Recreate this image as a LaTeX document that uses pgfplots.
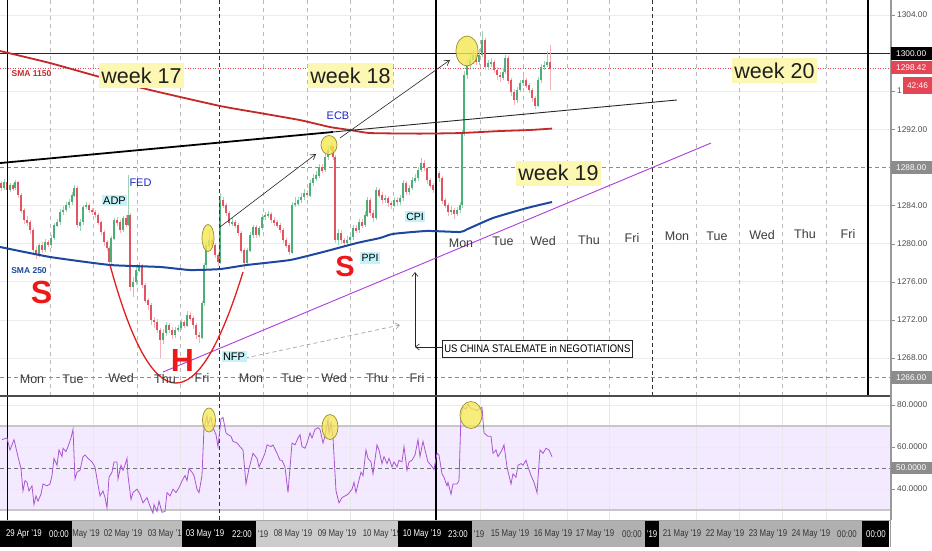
\documentclass[border=0pt]{standalone}
\usepackage{pgfplots}
\pgfplotsset{compat=1.18}
\usepackage{pgfplotstable}
\usepackage{graphicx}
\usepackage{fontspec}
\setmainfont{Liberation Sans}
\usetikzlibrary{arrows.meta}

\definecolor{cgreen}{RGB}{76,175,120}
\definecolor{cred}{RGB}{226,84,96}
\definecolor{smaA}{RGB}{196,40,40}
\definecolor{smaB}{RGB}{28,72,160}
\definecolor{tpurple}{RGB}{170,60,225}
\definecolor{cupred}{RGB}{225,30,30}
\definecolor{labelred}{RGB}{238,24,24}
\definecolor{newsblue}{RGB}{30,40,205}
\definecolor{weekyellow}{RGB}{252,247,178}
\definecolor{newscyan}{RGB}{196,242,248}
\definecolor{circyellow}{RGB}{245,232,80}
\definecolor{circedge}{RGB}{150,140,50}
\definecolor{rsiline}{RGB}{170,85,210}
\definecolor{rsiband}{RGB}{244,234,255}
\definecolor{gridgray}{RGB}{236,236,236}
\definecolor{daygray}{RGB}{60,60,60}
\definecolor{pxred}{RGB}{228,70,86}
\definecolor{barA}{RGB}{188,188,188}
\definecolor{barB}{RGB}{204,204,204}
\definecolor{barC}{RGB}{176,176,176}

\newcommand{\cond}[1]{\scalebox{0.8}[1]{#1}}

\pgfplotstableread{
x o h l c
1 1286.36 1286.6 1285.5 1285.84
4 1285.84 1286.8 1285.6 1286.47
7 1286.47 1286.7 1285.3 1285.63
10 1285.63 1286.4 1285.4 1286.15
13 1286.15 1286.4 1285.5 1285.84
15 1285.84 1286.7 1285.6 1286.47
18 1286.47 1286.6 1284.8 1285.10
21 1285.10 1285.3 1283.2 1283.53
24 1283.53 1283.8 1282.1 1282.48
27 1282.48 1282.9 1281.9 1282.27
30 1282.27 1282.5 1281.0 1281.43
33 1281.43 1281.6 1279.0 1279.33
36 1279.33 1279.8 1278.4 1278.81
39 1278.81 1280.1 1278.6 1279.86
42 1279.86 1280.2 1279.0 1279.33
45 1279.33 1280.5 1279.1 1280.17
48 1280.17 1280.4 1279.6 1279.86
51 1279.86 1280.9 1279.6 1280.59
54 1280.59 1282.2 1280.4 1281.95
57 1281.95 1282.6 1281.7 1282.27
60 1282.27 1283.6 1282.0 1283.32
63 1283.32 1283.9 1283.0 1283.53
66 1283.53 1284.4 1283.3 1284.05
69 1284.05 1284.7 1283.8 1284.37
72 1284.37 1285.4 1284.1 1285.10
74 1285.10 1286.2 1284.9 1285.84
77 1285.84 1286.0 1281.6 1281.95
80 1281.95 1282.6 1281.3 1282.27
83 1282.27 1284.1 1282.0 1283.85
86 1283.85 1284.4 1283.6 1284.05
89 1284.05 1284.3 1283.2 1283.53
92 1283.53 1283.8 1283.0 1283.32
95 1283.32 1283.5 1282.7 1283.00
98 1283.00 1283.2 1282.0 1282.27
101 1282.27 1282.4 1280.9 1281.22
104 1281.22 1281.4 1279.8 1280.17
107 1280.17 1280.4 1279.2 1279.54
109 1279.54 1279.8 1277.8 1278.07
111 1278.07 1280.8 1277.9 1280.59
114 1280.59 1282.7 1280.4 1282.48
117 1282.48 1282.8 1281.9 1282.27
120 1282.27 1282.5 1281.1 1281.43
123 1281.43 1282.9 1281.2 1282.69
126 1282.69 1283.0 1281.7 1281.95
128 1281.95 1287.2 1281.8 1283.00
130 1283.00 1283.2 1275.0 1275.45
133 1275.45 1276.5 1274.4 1275.97
136 1275.97 1277.5 1275.7 1277.23
139 1277.23 1278.1 1277.0 1277.76
142 1277.76 1277.9 1275.3 1275.66
145 1275.66 1275.9 1273.8 1274.08
148 1274.08 1274.3 1273.0 1273.56
151 1273.56 1273.8 1271.5 1271.98
154 1271.98 1272.3 1271.1 1271.77
157 1271.77 1272.1 1270.6 1270.93
160 1270.93 1271.2 1268.0 1269.88
163 1269.88 1271.0 1269.5 1270.62
166 1270.62 1271.8 1270.3 1271.46
169 1271.46 1271.7 1270.6 1270.93
172 1270.93 1271.2 1270.0 1270.41
175 1270.41 1271.3 1270.1 1270.93
178 1270.93 1271.5 1270.7 1271.14
181 1271.14 1272.1 1270.9 1271.77
184 1271.77 1272.0 1271.1 1271.46
187 1271.46 1272.9 1271.2 1272.51
190 1272.51 1272.8 1271.9 1272.19
193 1272.19 1272.4 1271.1 1271.46
196 1271.46 1271.7 1270.0 1270.41
199 1270.41 1270.7 1269.6 1270.20
202 1270.20 1274.0 1270.0 1273.77
204 1273.77 1278.0 1273.5 1277.76
206 1277.76 1280.2 1277.5 1279.86
209 1279.86 1281.4 1279.6 1280.38
212 1280.38 1280.7 1279.5 1279.86
215 1279.86 1280.1 1278.5 1278.81
218 1278.81 1279.0 1277.7 1278.07
220 1278.07 1285.3 1277.9 1284.58
223 1284.58 1284.9 1283.7 1284.05
226 1284.05 1284.3 1282.9 1283.21
229 1283.21 1283.4 1281.8 1282.17
232 1282.17 1282.7 1281.9 1282.27
235 1282.27 1282.5 1281.6 1281.95
238 1281.95 1282.2 1280.8 1281.12
241 1281.12 1281.3 1279.0 1279.33
244 1279.33 1279.6 1277.3 1277.97
247 1277.97 1279.6 1277.7 1279.33
250 1279.33 1281.2 1279.1 1280.91
253 1280.91 1282.0 1280.6 1281.75
256 1281.75 1282.0 1280.6 1280.91
259 1280.91 1281.9 1280.7 1281.64
262 1281.64 1283.1 1281.4 1282.80
265 1282.80 1283.3 1282.5 1283.00
268 1283.00 1283.4 1282.7 1283.10
271 1283.10 1283.3 1282.2 1282.48
274 1282.48 1282.8 1281.9 1282.27
277 1282.27 1282.5 1281.6 1281.95
280 1281.95 1282.2 1281.1 1281.43
283 1281.43 1281.6 1280.1 1280.38
286 1280.38 1280.6 1279.5 1279.86
289 1279.86 1280.1 1278.8 1279.12
292 1279.12 1284.4 1278.9 1284.05
295 1284.05 1284.9 1283.8 1284.26
298 1284.26 1284.9 1284.0 1284.58
301 1284.58 1285.3 1284.3 1284.89
304 1284.89 1285.7 1284.6 1285.31
307 1285.31 1285.6 1284.8 1285.10
310 1285.10 1286.7 1284.9 1286.36
313 1286.36 1287.3 1286.1 1286.89
316 1286.89 1287.6 1286.6 1287.20
319 1287.20 1288.4 1286.9 1288.04
322 1288.04 1288.4 1287.4 1287.73
325 1287.73 1289.4 1287.5 1289.09
328 1289.09 1290.3 1288.8 1289.83
331 1289.83 1290.6 1289.4 1290.20
333 1290.20 1290.4 1288.8 1289.09
335 1289.09 1289.3 1280.1 1280.38
338 1280.38 1281.5 1279.9 1281.12
341 1281.12 1281.4 1280.0 1280.38
344 1280.38 1280.6 1279.7 1280.07
347 1280.07 1280.8 1279.8 1280.38
350 1280.38 1281.1 1280.1 1280.70
353 1280.70 1282.0 1280.4 1281.64
356 1281.64 1282.0 1281.1 1281.43
359 1281.43 1282.6 1281.1 1282.27
362 1282.27 1282.6 1281.6 1281.95
365 1281.95 1283.4 1281.7 1283.00
367 1283.00 1284.9 1282.8 1284.58
370 1284.58 1284.8 1282.9 1283.21
373 1283.21 1283.5 1282.3 1282.69
376 1282.69 1286.0 1282.5 1285.63
379 1285.63 1285.9 1284.8 1285.10
382 1285.10 1285.4 1284.2 1284.58
385 1284.58 1285.1 1284.3 1284.79
388 1284.79 1285.0 1283.9 1284.26
391 1284.26 1284.5 1283.6 1284.05
394 1284.05 1284.9 1283.8 1284.58
397 1284.58 1284.9 1284.0 1284.37
400 1284.37 1285.1 1284.1 1284.79
403 1284.79 1286.7 1284.5 1286.36
406 1286.36 1286.6 1285.1 1285.42
409 1285.42 1286.2 1285.1 1285.84
412 1285.84 1287.0 1285.6 1286.68
415 1286.68 1287.3 1286.4 1286.89
418 1286.89 1288.1 1286.6 1287.73
421 1287.73 1289.0 1287.5 1288.46
424 1288.46 1288.8 1287.6 1287.94
427 1287.94 1288.1 1286.3 1286.68
430 1286.68 1286.9 1285.8 1286.15
433 1286.15 1286.4 1285.3 1285.63
436 1285.63 1287.7 1285.4 1287.41
439 1287.41 1287.6 1286.5 1286.89
442 1286.89 1287.1 1284.2 1284.58
445 1284.58 1284.8 1283.7 1284.05
448 1284.05 1284.3 1282.9 1283.32
451 1283.32 1283.9 1283.0 1283.53
454 1283.53 1283.8 1282.6 1283.21
457 1283.21 1283.9 1282.9 1283.53
460 1283.53 1284.4 1283.2 1284.05
462 1284.05 1291.9 1283.8 1291.61
464 1291.61 1298.1 1291.3 1297.70
467 1297.70 1299.4 1297.3 1298.75
470 1298.75 1299.9 1298.4 1299.28
473 1299.28 1300.3 1298.9 1299.80
476 1299.80 1300.1 1298.7 1299.07
479 1299.07 1300.4 1298.8 1299.80
482 1299.80 1302.3 1299.6 1301.38
485 1301.38 1301.6 1298.2 1298.54
488 1298.54 1299.3 1298.2 1298.96
491 1298.96 1299.5 1298.6 1299.07
494 1299.07 1299.3 1297.9 1298.23
497 1298.23 1298.5 1297.2 1297.70
500 1297.70 1298.0 1297.0 1297.49
503 1297.49 1298.4 1297.2 1298.02
505 1298.02 1299.8 1297.8 1299.49
508 1299.49 1299.7 1296.8 1297.18
511 1297.18 1297.4 1295.5 1295.92
514 1295.92 1296.2 1294.6 1295.08
517 1295.08 1296.5 1294.8 1296.13
520 1296.13 1297.2 1295.9 1296.86
523 1296.86 1297.6 1296.6 1297.18
526 1297.18 1297.4 1296.3 1296.65
529 1296.65 1296.9 1295.8 1296.13
532 1296.13 1296.4 1294.9 1295.29
535 1295.29 1295.5 1294.1 1294.55
538 1294.55 1297.5 1294.3 1297.18
541 1297.18 1298.9 1296.9 1298.54
544 1298.54 1299.2 1298.2 1298.75
547 1298.75 1300.2 1298.5 1299.07
550 1299.07 1300.8 1296.1 1298.42
}\candles

\pgfplotstableread{
x r
2 63.5
7 64.3
10 58.6
14 63.5
18 55.4
21 49.7
23 39.1
25 44.0
27 43.2
29 39.1
32 41.5
34 32.6
36 36.7
38 34.2
41 37.5
43 42.4
47 41.5
50 42.4
52 46.4
54 54.6
57 51.3
59 58.6
62 55.4
63 59.4
66 57.8
68 60.2
71 64.3
73 68.4
75 44.8
77 48.0
80 48.9
83 55.4
85 56.2
88 54.6
92 52.9
95 50.5
97 44.8
100 36.7
103 39.1
105 35.9
107 31.0
109 45.6
112 48.0
114 52.9
117 52.9
118 44.8
121 51.3
123 48.9
125 51.3
127 54.6
128 46.4
131 35.0
133 38.3
137 39.9
140 37.5
143 33.4
147 35.9
150 31.8
153 28.5
154 32.6
157 29.3
159 34.2
162 28.9
165 29.3
167 38.3
170 36.7
173 39.9
176 38.3
179 40.7
183 44.8
185 46.4
187 44.0
189 49.7
192 48.0
194 46.4
197 39.9
199 38.3
202 46.4
204 69.2
207 74.9
208 70.8
211 74.1
213 69.2
216 65.9
218 60.2
221 73.3
223 74.1
226 66.7
228 65.9
231 65.1
233 62.7
237 61.9
240 60.2
243 58.6
246 42.4
249 49.7
253 57.0
257 54.6
259 50.5
262 53.7
265 57.0
267 61.0
271 60.2
273 61.0
277 57.0
280 53.7
282 53.7
285 50.5
288 38.3
292 61.9
295 61.0
298 64.3
300 65.9
302 60.2
305 59.4
307 61.9
310 66.7
312 64.3
315 68.4
318 69.2
320 68.4
323 61.9
325 65.1
328 73.3
329 66.7
331 71.6
333 64.3
336 39.1
339 33.4
342 35.9
345 36.7
348 37.5
352 39.9
354 43.2
356 38.3
358 42.4
361 48.0
363 46.4
366 58.6
368 54.6
371 52.9
373 47.2
377 61.0
379 58.6
382 52.1
384 55.4
387 52.1
389 54.6
392 50.5
394 52.9
397 50.5
399 53.7
402 52.9
404 60.2
407 48.9
409 52.9
412 53.7
415 56.2
418 63.5
420 55.4
423 62.7
425 58.6
428 52.9
431 51.3
434 49.3
437 57.0
439 56.2
442 47.2
444 45.6
447 41.5
448 43.2
451 37.5
453 42.4
457 42.4
459 44.0
461 75.7
463 78.9
466 78.1
468 80.6
471 78.1
474 78.1
477 77.3
479 78.1
482 78.9
484 66.7
488 65.1
491 65.1
493 57.0
496 58.6
498 55.4
500 57.0
502 58.6
504 61.0
507 50.5
509 46.4
511 42.4
513 47.2
516 45.6
518 51.3
521 52.1
523 51.3
526 53.7
528 50.5
531 46.4
534 43.2
537 38.3
540 58.6
543 57.0
546 59.4
549 58.6
552 55.4
}\rsi

\begin{document}
\begin{tikzpicture}
\fill[white] (0pt,0pt) rectangle (932pt,-550pt);
\path[use as bounding box] (0pt,0pt) rectangle (932pt,-550pt);

% ================= PRICE PANEL =================
\begin{axis}[
  at={(0pt,0pt)}, anchor=north west,
  width=891pt, height=396pt, scale only axis,
  xmin=0, xmax=891, ymin=1264.005, ymax=1305.575,
  axis x line=none, axis y line*=right,
  axis line style={draw=black!40},
  ytick={1268,1272,1276,1280,1284,1292,1304},
  extra y ticks={1266,1288,1296,1300},
  extra y tick labels={},
  extra y tick style={grid=none},
  tick align=outside, major tick length=4pt,
  ytick style={draw=black!45},
  yticklabel style={font=\fontsize{8.3}{9}\selectfont, text=black!70, anchor=west, inner sep=0pt, xshift=2pt,
    /pgf/number format/fixed, /pgf/number format/fixed zerofill, /pgf/number format/precision=2,
    /pgf/number format/1000 sep={}, /pgf/number format/assume math mode=true},
  ymajorgrids, grid style={draw=gridgray, line width=0.6pt},
  clip=false,
]
\draw[gridgray, line width=0.6pt] (axis cs:0,1296) -- (axis cs:891,1296);
% day boundaries
\pgfplotsinvokeforeach{50,93,137,180,263,307,350,393,480,523,567,609,696,739,782,826}{
  \draw[black!28, dash pattern=on 4pt off 4pt] (axis cs:#1,1264.005) -- (axis cs:#1,1305.575);
}
% horizontal levels
\draw[black!45, dash pattern=on 4pt off 3pt] (axis cs:0,1288) -- (axis cs:891,1288);
\draw[black!45, dash pattern=on 4pt off 3pt] (axis cs:0,1266) -- (axis cs:891,1266);
\draw[black!85, line width=0.9pt] (axis cs:0,1300) -- (axis cs:891,1300);
\draw[pxred, dash pattern=on 1pt off 1.5pt, line width=0.6pt] (axis cs:0,1298.42) -- (axis cs:891,1298.42);

% candles: wicks
\addplot[draw=none, mark=none, forget plot, restrict y to domain=1200:1400,
  error bars/.cd, y dir=both, y explicit, error mark=none,
  error bar style={draw=cgreen!55, line width=0.7pt}]
  table[x=x, y expr={(\thisrow{h}+\thisrow{l})/2 + 1000*(\thisrow{c}<\thisrow{o})},
        y error expr={(\thisrow{h}-\thisrow{l})/2}] {\candles};
\addplot[draw=none, mark=none, forget plot, restrict y to domain=1200:1400,
  error bars/.cd, y dir=both, y explicit, error mark=none,
  error bar style={draw=cred!45, line width=0.7pt}]
  table[x=x, y expr={(\thisrow{h}+\thisrow{l})/2 + 1000*(\thisrow{c}>=\thisrow{o})},
        y error expr={(\thisrow{h}-\thisrow{l})/2}] {\candles};
% candles: bodies
\addplot[draw=none, mark=none, forget plot, restrict y to domain=1200:1400,
  error bars/.cd, y dir=both, y explicit, error mark=none,
  error bar style={draw=cgreen, line width=2.3pt}]
  table[x=x, y expr={(\thisrow{o}+\thisrow{c})/2 + 1000*(\thisrow{c}<\thisrow{o})},
        y error expr={abs(\thisrow{c}-\thisrow{o})/2+0.04}] {\candles};
\addplot[draw=none, mark=none, forget plot, restrict y to domain=1200:1400,
  error bars/.cd, y dir=both, y explicit, error mark=none,
  error bar style={draw=cred, line width=2.3pt}]
  table[x=x, y expr={(\thisrow{o}+\thisrow{c})/2 + 1000*(\thisrow{c}>=\thisrow{o})},
        y error expr={abs(\thisrow{c}-\thisrow{o})/2+0.04}] {\candles};

% dark vertical lines
\draw[black, line width=1.3pt] (axis cs:7.5,1264.005) -- (axis cs:7.5,1305.575);
\draw[black, line width=1.3pt] (axis cs:436,1264.005) -- (axis cs:436,1305.575);
\draw[black, line width=1.3pt] (axis cs:868,1264.005) -- (axis cs:868,1305.575);
\draw[black!80, line width=0.9pt, dash pattern=on 4pt off 3pt] (axis cs:219,1264.005) -- (axis cs:219,1305.575);
\draw[black!80, line width=0.9pt, dash pattern=on 4pt off 3pt] (axis cs:652,1264.005) -- (axis cs:652,1305.575);

% SMA 1150
\addplot[smaA, line width=1.8pt, no marks, smooth, tension=0.3] coordinates {
(0,1300.22) (50,1298.96) (100,1297.49) (150,1296.13) (220,1294.45) (260,1293.71)
(300,1292.97) (330,1292.24) (350,1291.93) (370,1291.61) (420,1291.55) (460,1291.61)
(500,1291.82) (530,1291.93) (552,1292.08)};
% SMA 250
\addplot[smaB, line width=2pt, no marks, smooth, tension=0.3] coordinates {
(0,1279.65) (50,1278.60) (110,1277.76) (160,1277.55) (190,1277.23) (220,1277.33)
(247,1277.76) (290,1278.28) (323,1279.12) (357,1280.07) (380,1280.59) (393,1281.02)
(427,1281.33) (460,1281.22) (467,1281.50) (493,1282.69) (527,1283.74) (552,1284.37)};

% trend lines
\draw[black, line width=1.8pt] (axis cs:0,1288.46) -- (axis cs:333,1291.72);
\draw[black!85, line width=0.9pt] (axis cs:333,1291.72) -- (axis cs:677,1295.08);
\draw[tpurple, line width=0.9pt] (axis cs:163,1266.52) -- (axis cs:711,1290.56);
% cup
\draw[cupred, line width=1.3pt] (axis cs:110,1277.76) .. controls (axis cs:152.3,1261.49) and (axis cs:196.7,1261.24) .. (axis cs:243,1277.02);
% arrows
\draw[black!85, line width=0.6pt, -{Straight Barb[length=5pt,width=6pt]}] (axis cs:220,1281.75) -- (axis cs:316,1289.41);
\draw[black!85, line width=0.6pt, -{Straight Barb[length=5pt,width=6pt]}] (axis cs:340,1291.09) -- (axis cs:450,1299.28);
\draw[black!35, line width=0.7pt, dash pattern=on 4pt off 3pt, -{Straight Barb[length=4pt,width=6pt]}] (axis cs:245,1267.99) -- (axis cs:400,1271.46);
\draw[black!85, line width=0.6pt, -{Straight Barb[length=4pt,width=6pt]}] (axis cs:415,1269.15) -- (axis cs:415,1277.02);
\draw[black!85, line width=0.6pt, -{Straight Barb[length=4pt,width=6pt]}] (axis cs:442,1269.15) -- (axis cs:415,1269.15);

% yellow circles
\filldraw[fill=circyellow, draw=circedge, fill opacity=0.8, line width=0.7pt] (axis cs:208,1280.59) ellipse [x radius=6pt, y radius=13.5pt];
\filldraw[fill=circyellow, draw=circedge, fill opacity=0.8, line width=0.7pt] (axis cs:329,1290.35) ellipse [x radius=8pt, y radius=9.5pt];
\filldraw[fill=circyellow, draw=circedge, fill opacity=0.8, line width=0.7pt] (axis cs:467,1300.22) ellipse [x radius=11pt, y radius=15pt];
\end{axis}

% ================= RSI PANEL =================
\begin{axis}[
  at={(0pt,-396pt)}, anchor=north west,
  width=891pt, height=124pt, scale only axis,
  xmin=0, xmax=891, ymin=25.238, ymax=84.286,
  axis x line=none, axis y line*=right,
  axis line style={draw=black!40},
  ytick={40,60,80},
  extra y ticks={50}, extra y tick labels={},
  tick align=outside, major tick length=4pt,
  ytick style={draw=black!45},
  yticklabel style={font=\fontsize{8.3}{9}\selectfont, text=black!70, anchor=west, inner sep=0pt, xshift=2pt,
    /pgf/number format/fixed, /pgf/number format/fixed zerofill, /pgf/number format/precision=4,
    /pgf/number format/1000 sep={}, /pgf/number format/assume math mode=true},
  clip=false,
]
\fill[rsiband] (axis cs:0,30) rectangle (axis cs:891,70);
\pgfplotsinvokeforeach{40,60,80}{
  \draw[black!8, line width=0.6pt] (axis cs:0,#1) -- (axis cs:891,#1);
}
\pgfplotsinvokeforeach{93,137,180,263,307,350,393,480,523,567,609,696,739,782,826}{
  \draw[black!9, line width=0.6pt] (axis cs:#1,25.238) -- (axis cs:#1,84.286);
}
\draw[black!22, line width=1.8pt] (axis cs:0,70) -- (axis cs:891,70);
\draw[black!22, line width=1.8pt] (axis cs:0,30) -- (axis cs:891,30);
\draw[black!55, dash pattern=on 4pt off 3pt, line width=0.6pt] (axis cs:0,50) -- (axis cs:891,50);
\draw[black, line width=1.3pt] (axis cs:7.5,25.238) -- (axis cs:7.5,84.286);
\draw[black, line width=1.3pt] (axis cs:436,25.238) -- (axis cs:436,84.286);
\draw[black!80, line width=0.9pt, dash pattern=on 4pt off 3pt] (axis cs:219,25.238) -- (axis cs:219,84.286);
\addplot[rsiline, line width=0.8pt, no marks] table[x=x, y=r] {\rsi};
\filldraw[fill=circyellow, draw=circedge, fill opacity=0.75, line width=0.7pt] (axis cs:209,72.86) ellipse [x radius=6.5pt, y radius=12pt];
\filldraw[fill=circyellow, draw=circedge, fill opacity=0.75, line width=0.7pt] (axis cs:330,69.52) ellipse [x radius=8pt, y radius=12.5pt];
\filldraw[fill=circyellow, draw=circedge, fill opacity=0.75, line width=0.7pt] (axis cs:471,75.24) ellipse [x radius=11pt, y radius=13.5pt];
\end{axis}

% separator lines
\draw[black!70, line width=1.2pt] (0pt,-396pt) -- (891pt,-396pt);
\draw[black!35, line width=0.8pt] (0pt,-520.5pt) -- (891pt,-520.5pt);

% ================= TEXT IN PRICE PANEL =================
\tikzset{wk/.style={fill=weekyellow, font=\fontsize{21.5}{24}\selectfont, text=black!88, inner xsep=2.5pt, minimum height=25pt},
         day/.style={font=\fontsize{12.5}{14}\selectfont, text=daygray, inner sep=0pt},
         news/.style={fill=newscyan, font=\fontsize{11}{12}\selectfont, text=black, inner xsep=1.5pt, inner ysep=2pt},
         big/.style={font=\bfseries\fontsize{32}{36}\selectfont, text=labelred, inner sep=0pt}}
\node[wk] at (141.5pt,-75.5pt) {week 17};
\node[wk] at (350.5pt,-75.5pt) {week 18};
\node[wk] at (558.5pt,-173pt) {week 19};
\node[wk] at (774.5pt,-70.5pt) {week 20};

\node[font=\bfseries\fontsize{8.5}{9}\selectfont, text=smaA, inner sep=0pt] at (31.5pt,-73.5pt) {SMA 1150};
\node[font=\bfseries\fontsize{8.5}{9}\selectfont, text=smaB, inner sep=0pt] at (29pt,-271pt) {SMA 250};

\node[big] at (41.5pt,-292.5pt) {S};
\node[big, font=\bfseries\fontsize{29}{32}\selectfont] at (345pt,-267pt) {S};
\node[big] at (182.5pt,-360pt) {H};

\node[news] at (114.5pt,-200.5pt) {ADP};
\node[font=\fontsize{11}{12}\selectfont, text=newsblue, inner sep=0pt] at (140.5pt,-182.5pt) {FED};
\node[font=\fontsize{11}{12}\selectfont, text=newsblue, inner sep=0pt] at (338pt,-116pt) {ECB};
\node[news, font=\fontsize{10.5}{12}\selectfont] at (415pt,-216.5pt) {CPI};
\node[news, font=\fontsize{10.5}{12}\selectfont] at (370pt,-258pt) {PPI};
\node[news] at (234pt,-356.5pt) {NFP};

\node[draw=black!85, fill=white, line width=0.6pt, font=\fontsize{11}{12}\selectfont, inner xsep=2pt, minimum height=17pt, anchor=west] at (442pt,-348.5pt) {\scalebox{0.86}[1]{US CHINA STALEMATE in NEGOTIATIONS}};

% day labels
\node[day] at (32pt,-379pt) {Mon};
\node[day] at (73pt,-379pt) {Tue};
\node[day] at (121pt,-378pt) {Wed};
\node[day] at (165pt,-379pt) {Thu};
\node[day] at (202pt,-378pt) {Fri};
\node[day] at (251pt,-378pt) {Mon};
\node[day] at (292pt,-378pt) {Tue};
\node[day] at (334pt,-378pt) {Wed};
\node[day] at (377pt,-378pt) {Thu};
\node[day] at (417pt,-378pt) {Fri};
\node[day] at (461pt,-243pt) {Mon};
\node[day] at (503pt,-241pt) {Tue};
\node[day] at (543pt,-241pt) {Wed};
\node[day] at (589pt,-240pt) {Thu};
\node[day] at (632pt,-238pt) {Fri};
\node[day] at (677pt,-236pt) {Mon};
\node[day] at (717pt,-236pt) {Tue};
\node[day] at (762pt,-235pt) {Wed};
\node[day] at (805pt,-234pt) {Thu};
\node[day] at (848pt,-234pt) {Fri};

% ================= PRICE SCALE BOXES =================
\tikzset{pbox/.style={font=\fontsize{8.3}{9}\selectfont, text=white, inner sep=0pt, anchor=west}}
\fill[black] (891pt,-47pt) rectangle (932pt,-59.5pt);
\node[pbox] at (896pt,-53.2pt) {1300.00};
\fill[pxred] (891pt,-61pt) rectangle (932pt,-74pt);
\node[pbox] at (896pt,-67.5pt) {1298.42};
\node[font=\fontsize{8.3}{9}\selectfont, text=black!70, inner sep=0pt, anchor=west] at (897pt,-90.5pt) {1};
\fill[pxred] (903pt,-77pt) rectangle (932pt,-94pt);
\node[pbox, anchor=center] at (917.5pt,-85.5pt) {42:46};
\fill[black!45] (891pt,-161pt) rectangle (932pt,-173.5pt);
\node[pbox] at (896pt,-167.3pt) {1288.00};
\fill[black!45] (891pt,-371pt) rectangle (932pt,-383.5pt);
\node[pbox] at (896pt,-377.3pt) {1266.00};
\fill[black!45] (891pt,-462pt) rectangle (932pt,-474pt);
\node[pbox] at (896pt,-468pt) {50.0000};

% ================= DATE BAR =================
\tikzset{dl/.style={font=\fontsize{9.8}{11}\selectfont, text=black!80, inner sep=0pt},
         dw/.style={font=\fontsize{9.8}{11}\selectfont, text=white, inner sep=0pt}}
\fill[barA] (72pt,-521pt) rectangle (182pt,-547pt);
\fill[barB] (256pt,-521pt) rectangle (398pt,-547pt);
\fill[barC] (472pt,-521pt) rectangle (645pt,-547pt);
\fill[barC] (659pt,-521pt) rectangle (862pt,-547pt);
\node[dl] at (86pt,-534pt) {\cond{May '19}};
\node[dl] at (123pt,-534pt) {\cond{02 May '19}};
\node[dl] at (167pt,-534pt) {\cond{03 May '19}};
\node[dl] at (263pt,-534pt) {\cond{'19}};
\node[dl] at (293pt,-534pt) {\cond{08 May '19}};
\node[dl] at (337pt,-534pt) {\cond{09 May '19}};
\node[dl] at (382pt,-534pt) {\cond{10 May '19}};
\node[dl] at (479pt,-534pt) {\cond{'19}};
\node[dl] at (510pt,-534pt) {\cond{15 May '19}};
\node[dl] at (553pt,-534pt) {\cond{16 May '19}};
\node[dl] at (595pt,-534pt) {\cond{17 May '19}};
\node[dl] at (632pt,-534pt) {\cond{00:00}};
\node[dl] at (682pt,-534pt) {\cond{21 May '19}};
\node[dl] at (725pt,-534pt) {\cond{22 May '19}};
\node[dl] at (768pt,-534pt) {\cond{23 May '19}};
\node[dl] at (811pt,-534pt) {\cond{24 May '19}};
\node[dl] at (847pt,-534pt) {\cond{00:00}};
\fill[black] (0pt,-521pt) rectangle (72pt,-547pt);
\fill[black] (182pt,-521pt) rectangle (256pt,-547pt);
\fill[black] (398pt,-521pt) rectangle (472pt,-547pt);
\fill[black] (645pt,-521pt) rectangle (659pt,-547pt);
\fill[black] (862pt,-521pt) rectangle (889pt,-547pt);
\node[dw] at (24pt,-534pt) {\cond{29 Apr '19}};
\node[dw] at (59pt,-534pt) {\cond{00:00}};
\node[dw] at (205pt,-534pt) {\cond{03 May '19}};
\node[dw] at (242pt,-534pt) {\cond{22:00}};
\node[dw] at (422pt,-534pt) {\cond{10 May '19}};
\node[dw] at (458pt,-534pt) {\cond{23:00}};
\node[dw] at (652pt,-534pt) {\cond{'19}};
\node[dw] at (876pt,-534pt) {\cond{00:00}};
\draw[black!40, line width=0.8pt] (890.5pt,0pt) -- (890.5pt,-547pt);
\end{tikzpicture}
\end{document}
